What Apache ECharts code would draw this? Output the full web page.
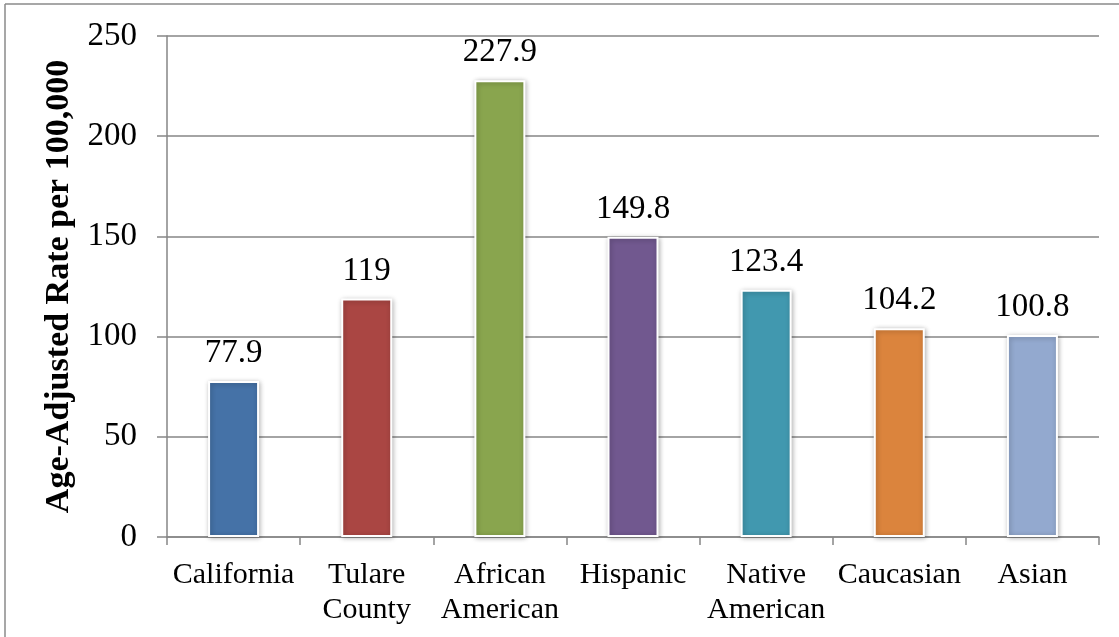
<!DOCTYPE html>
<html>
<head>
<meta charset="utf-8">
<script src="https://cdn.jsdelivr.net/npm/echarts@6/dist/echarts.min.js"></script>
<style>
html,body{margin:0;padding:0;background:#fff;}
#c{width:1119px;height:637px;}
</style>
</head>
<body>
<div id="c"></div>
<script>
const categories = ['California', 'Tulare\nCounty', 'African\nAmerican', 'Hispanic', 'Native\nAmerican', 'Caucasian', 'Asian'];
const values = [77.9, 119, 227.9, 149.8, 123.4, 104.2, 100.8];
const barColors = ['#4572A7', '#AA4643', '#89A54E', '#71588F', '#4198AF', '#DB843D', '#93A9CF'];
const yTitle = 'Age-Adjusted Rate per 100,000';

const FONT = 'Liberation Serif';
const chart = echarts.init(document.getElementById('c'));
chart.setOption({
  backgroundColor: '#fff',
  animation: false,
  graphic: [
    {type: 'line', shape: {x1: 5, y1: 4, x2: 1119, y2: 4}, style: {stroke: '#8a8a8a', lineWidth: 1.5}},
    {type: 'line', shape: {x1: 5, y1: 4, x2: 5, y2: 637}, style: {stroke: '#8a8a8a', lineWidth: 1.5}}
  ],
  grid: {left: 167, right: 20, top: 36, bottom: 100},
  xAxis: {
    type: 'category',
    data: categories,
    axisLine: {lineStyle: {color: '#868686', width: 1.5}},
    axisTick: {show: true, length: 8, lineStyle: {color: '#868686', width: 1.5}},
    axisLabel: {fontFamily: FONT, fontSize: 30, color: '#000', lineHeight: 35, margin: 21, interval: 0}
  },
  yAxis: {
    type: 'value',
    min: 0, max: 250, interval: 50,
    name: yTitle,
    nameLocation: 'middle',
    nameGap: 89,
    nameTextStyle: {fontFamily: FONT, fontSize: 34, fontWeight: 'bold', color: '#000'},
    axisLine: {show: true, lineStyle: {color: '#868686', width: 1.5}},
    axisTick: {show: true, length: 10, lineStyle: {color: '#868686', width: 1.5}},
    axisLabel: {fontFamily: FONT, fontSize: 33, color: '#000', margin: 30},
    splitLine: {lineStyle: {color: '#868686', width: 1.5}}
  },
  series: [{
    type: 'bar',
    data: values.map((v, i) => ({value: v, itemStyle: {color: barColors[i]}})),
    barWidth: 51,
    itemStyle: {borderColor: '#fff', borderWidth: 2, shadowBlur: 5, shadowColor: 'rgba(0,0,0,0.3)', shadowOffsetX: 1, shadowOffsetY: 1},
    label: {show: true, position: 'top', distance: 11, fontFamily: FONT, fontSize: 33, color: '#000'}
  }]
});
</script>
</body>
</html>
